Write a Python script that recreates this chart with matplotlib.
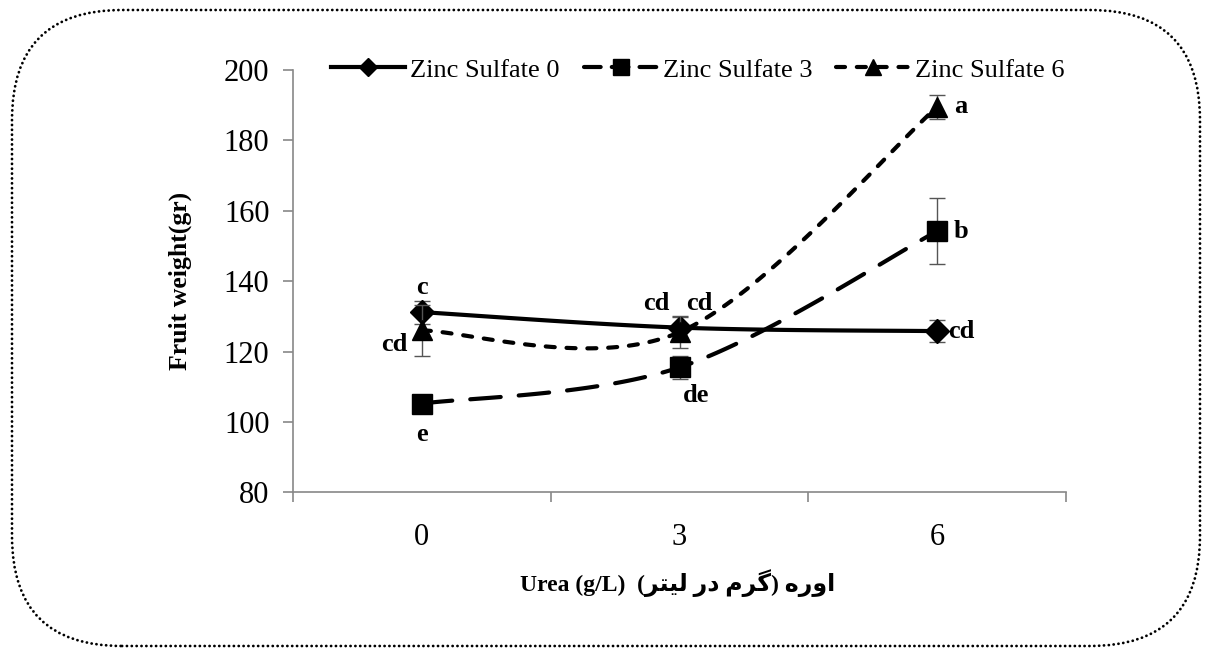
import numpy as np
import matplotlib
matplotlib.use("Agg")
import matplotlib.pyplot as plt
from matplotlib.patches import FancyBboxPatch
from matplotlib.lines import Line2D

# ---------------- data ----------------
categories = ["0", "3", "6"]
series_names = ["Zinc Sulfate 0", "Zinc Sulfate 3", "Zinc Sulfate 6"]
zs0 = [131.2, 126.8, 125.8]
zs3 = [105.2, 115.5, 154.2]
zs6 = [126.0, 125.5, 189.5]
zs0_err = [3.3, 3.0, 3.2]
zs3_err = [2.0, 3.3, 9.4]
zs6_err = [7.2, 4.5, 3.5]
zs0_letters = ["c", "cd", "cd"]
zs3_letters = ["e", "de", "b"]
zs6_letters = ["cd", "cd", "a"]
y_ticks = [80, 100, 120, 140, 160, 180, 200]
y_label = "Fruit weight(gr)"
# Persian part written in visual (presentation-form) order for correct display
x_label = "Urea (g/L)  (\ufeae\ufe98\ufbff\ufedf \ufead\ufea9 \ufee1\ufeae\ufb94) \ufee9\ufead\ufeed\ufe8d"

plt.rcParams["lines.scale_dashes"] = False
serif = ["Liberation Serif", "DejaVu Serif"]

W, H = 1210, 649
fig = plt.figure(figsize=(W / 100, H / 100), dpi=100)
ax = fig.add_axes([293 / W, 1 - 492.3 / H, (1066 - 293) / W, (492.3 - 70) / H])

x = np.arange(len(categories))


def smooth(xs, ys, n=60):
    """Catmull-Rom style cubic Bezier smoothing (as in spreadsheet 'smoothed line')."""
    xs = np.asarray(xs, float)
    ys = np.asarray(ys, float)
    sx, sy = (1066 - 293) / 3.0, 422.3 / 120.0
    P = np.column_stack([xs * sx, ys * sy])
    Pe = np.vstack([P[0], P, P[-1]])
    out = []
    t = np.linspace(0, 1, n)[:, None]
    for i in range(len(P) - 1):
        p0, p1, p2, p3 = Pe[i], Pe[i + 1], Pe[i + 2], Pe[i + 3]
        c1 = p1 + (p2 - p0) / 6.0
        c2 = p2 - (p3 - p1) / 6.0
        seg = ((1 - t) ** 3) * p1 + 3 * ((1 - t) ** 2) * t * c1 + 3 * (1 - t) * t ** 2 * c2 + t ** 3 * p2
        out.append(seg if i == 0 else seg[1:])
    out = np.vstack(out)
    return out[:, 0] / sx, out[:, 1] / sy


lw = 3.0
styles = [
    dict(ls="-", marker="D", ms=12, dashes=None),
    dict(ls="--", marker="s", ms=14, dashes=(22, 13)),
    dict(ls="--", marker="^", ms=15, dashes=(6.5, 8.5)),
]
data = [zs0, zs3, zs6]
errs = [zs0_err, zs3_err, zs6_err]
handles = []
for k, (vals, err, st) in enumerate(zip(data, errs, styles)):
    ax.errorbar(x, vals, yerr=err, fmt="none", ecolor="#555555", elinewidth=1.0,
                capsize=6, capthick=1.0, zorder=2 + k)
    sxs, sys_ = smooth(x, vals)
    line, = ax.plot(sxs, sys_, color="black", lw=lw, ls=st["ls"], zorder=3 + k,
                    solid_capstyle="butt", dash_capstyle="round")
    if st["dashes"] is not None:
        line.set_dashes(st["dashes"])
    ax.plot(x, vals, ls="none", marker=st["marker"], ms=st["ms"], color="black", zorder=3 + k)
    h = Line2D([], [], color="black", lw=lw, ls=st["ls"], marker=st["marker"], ms=st["ms"] * 0.8,
               dash_capstyle="round")
    if st["dashes"] is not None:
        h.set_dashes(st["dashes"] if k != 1 else (12, 8))
    handles.append(h)

# significance letters (offsets in points)
lab_kw = dict(fontsize=19, fontweight="bold", family=serif, textcoords="offset points")
ax.annotate(zs0_letters[0], (x[0], zs0[0]), xytext=(0, 18), ha="center", va="center", **lab_kw)
ax.annotate(zs6_letters[0], (x[0], zs6[0]), xytext=(-20, -10), ha="center", va="center", **lab_kw)
ax.annotate(zs3_letters[0], (x[0], zs3[0]), xytext=(0, -22), ha="center", va="center", **lab_kw)
ax.annotate(zs0_letters[1], (x[1], zs0[1]), xytext=(-17, 17), ha="center", va="center", **lab_kw)
ax.annotate(zs6_letters[1], (x[1], zs6[1]), xytext=(14, 21), ha="center", va="center", **lab_kw)
ax.annotate(zs3_letters[1], (x[1], zs3[1]), xytext=(12, -20), ha="center", va="center", **lab_kw)
ax.annotate(zs6_letters[2], (x[2], zs6[2]), xytext=(12, 0), ha="left", va="center", **lab_kw)
ax.annotate(zs3_letters[2], (x[2], zs3[2]), xytext=(12, 0), ha="left", va="center", **lab_kw)
ax.annotate(zs0_letters[2], (x[2], zs0[2]), xytext=(8, 0), ha="left", va="center", **lab_kw)

# axes styling
ax.set_xlim(-0.5, 2.5)
ax.set_ylim(80, 200)
ax.set_yticks(y_ticks)
ax.set_yticklabels([str(v) for v in y_ticks])
ax.set_xticks([-0.5, 0.5, 1.5, 2.5])
ax.set_xticklabels([])
ax.set_xticks(x, minor=True)
ax.set_xticklabels(categories, minor=True)
for s in ["top", "right"]:
    ax.spines[s].set_visible(False)
for s in ["left", "bottom"]:
    ax.spines[s].set_color("#888888")
    ax.spines[s].set_linewidth(1.2)
ax.tick_params(axis="y", which="major", direction="out", length=7, width=1.2, color="#888888",
               pad=10, labelsize=22)
ax.tick_params(axis="x", which="major", direction="out", length=7, width=1.2, color="#888888")
ax.tick_params(axis="x", which="minor", length=0, pad=22, labelsize=22)
for t in ax.get_yticklabels() + ax.get_xticklabels(minor=True):
    t.set_family(serif)

fig.text(180 / W, 1 - 281 / H, y_label, rotation=90, ha="center", va="center",
         fontsize=18.5, fontweight="bold", family=serif)
fig.text(678 / W, 1 - 583 / H, x_label, ha="center", va="center",
         fontsize=17, fontweight="bold", family=["Liberation Serif", "DejaVu Sans"])

fig.legend(handles, series_names, loc="center", bbox_to_anchor=(698 / W, 1 - 70 / H),
           ncol=3, frameon=False, prop={"family": serif, "size": 19},
           handlelength=2.8, handletextpad=0.2, columnspacing=0.9, numpoints=1,
           borderaxespad=0, borderpad=0)

# rounded dotted frame around the figure (pixel coordinates)
frame = FancyBboxPatch((12, 3), 1188, 636, boxstyle="round,pad=0,rounding_size=110",
                       transform=None, fill=False, edgecolor="black", lw=2.0,
                       linestyle=(0, (0.1, 3.4)), capstyle="round")
fig.patches.append(frame)

fig.savefig("out.png", dpi=100)
